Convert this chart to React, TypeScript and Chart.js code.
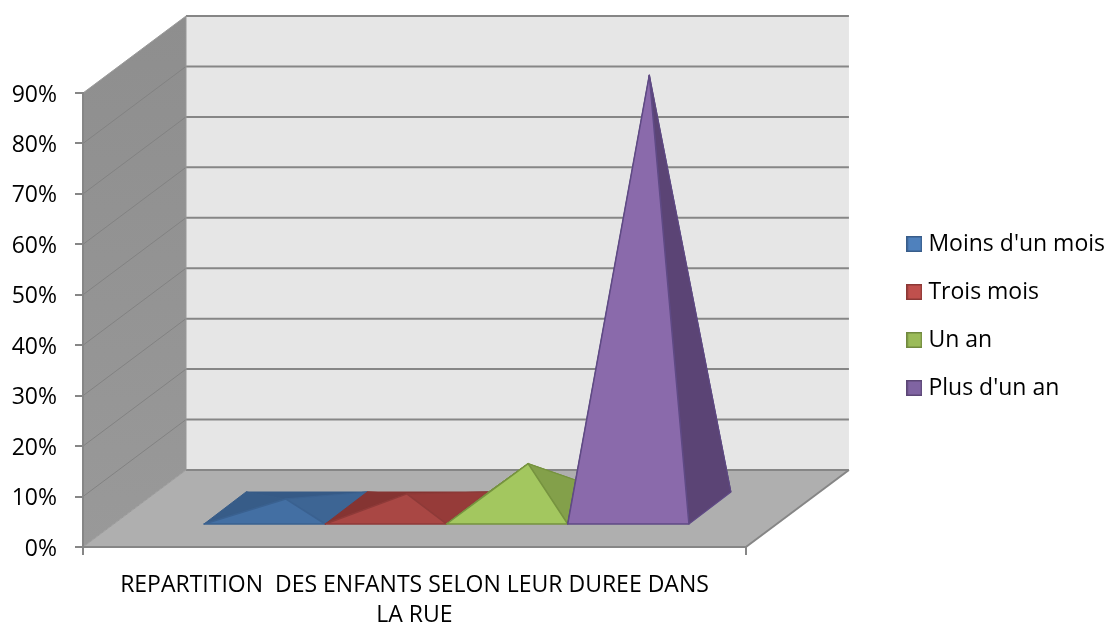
import React, { useEffect, useRef } from "react";
import { Chart, registerables, BarController } from "chart.js";

const categories = [["REPARTITION  DES ENFANTS SELON LEUR DUREE DANS", "LA RUE"]];
const seriesNames = ["Moins d'un mois", "Trois mois", "Un an", "Plus d'un an"];
const moinsDunMois = [2];
const troisMois = [3];
const unAn = [9];
const plusDunAn = [86];
const seriesValues = [moinsDunMois, troisMois, unAn, plusDunAn];

const frontColors = ["#436fa3", "#a94744", "#a3c75f", "#8a6aab"];
const rightColors = ["#3d6594", "#963b39", "#83a04a", "#5b4475"];
const leftColors = ["#375c88", "#853432", "#76913f", "#4f3b66"];
const backColors = ["#365a86", "#853432", "#76913f", "#4f3b66"];
const edgeColors = ["#3a6190", "#8e3a38", "#76933f", "#5f4a85"];
const swatchColors = ["#4f81bd", "#c0504d", "#9bbb59", "#8064a2"];
const swatchBorders = ["#385d8a", "#8c3836", "#71893f", "#5c4776"];

const FONT = { family: "Open Sans", size: 23 };
const AXIS = "#868686";
const WALL_DX = 103;
const WALL_DY = 77;
const BASE_FRONT = { dx: 32, dy: 22 };
const BASE_DEPTH = { dx: 42, dy: 32 };

class PyramidController extends BarController {
  static id = "pyramid";
  static defaults = { ...(BarController as any).defaults };
  static overrides = (BarController as any).overrides;
  draw() {}
}

Chart.register(...registerables, PyramidController as any);

type P = [number, number];
function poly(ctx: CanvasRenderingContext2D, pts: P[], fill: string | CanvasGradient, stroke?: string, lw = 1) {
  ctx.beginPath();
  pts.forEach((p, i) => (i ? ctx.lineTo(p[0], p[1]) : ctx.moveTo(p[0], p[1])));
  ctx.closePath();
  ctx.fillStyle = fill;
  ctx.fill();
  if (stroke) {
    ctx.strokeStyle = stroke;
    ctx.lineWidth = lw;
    ctx.lineJoin = "round";
    ctx.stroke();
  }
}

function line(ctx: CanvasRenderingContext2D, a: P, b: P, color: string, lw: number) {
  ctx.beginPath();
  ctx.moveTo(a[0], a[1]);
  ctx.lineTo(b[0], b[1]);
  ctx.strokeStyle = color;
  ctx.lineWidth = lw;
  ctx.stroke();
}

const wallsPlugin = {
  id: "walls",
  beforeDraw(chart: any) {
    const { ctx, chartArea: a, scales } = chart;
    const y = scales.y;
    ctx.save();
    const x0 = a.left, x1 = a.right, b = a.bottom, t = a.top;
    const side = ctx.createLinearGradient(0, t - WALL_DY, 0, b);
    side.addColorStop(0, "#8e8e8e");
    side.addColorStop(1, "#999999");
    poly(ctx, [[x0 + WALL_DX, t - WALL_DY], [x1 + WALL_DX, t - WALL_DY], [x1 + WALL_DX, b - WALL_DY], [x0 + WALL_DX, b - WALL_DY]], "#e6e6e6");
    poly(ctx, [[x0, t], [x0 + WALL_DX, t - WALL_DY], [x0 + WALL_DX, b - WALL_DY], [x0, b]], side);
    poly(ctx, [[x0, b], [x0 + WALL_DX, b - WALL_DY], [x1 + WALL_DX, b - WALL_DY], [x1, b]], "#afafaf");
    y.ticks.forEach((tick: any) => {
      const py = y.getPixelForValue(tick.value);
      line(ctx, [x0, py], [x0 + WALL_DX, py - WALL_DY], tick.value === 0 || tick.value === 90 ? "#9a9a9a" : "#828282", 1);
      line(ctx, [x0 + WALL_DX, py - WALL_DY], [x1 + WALL_DX, py - WALL_DY], AXIS, 2);
    });
    line(ctx, [x0 + WALL_DX, t - WALL_DY], [x0 + WALL_DX, b - WALL_DY], "#989898", 1);
    line(ctx, [x1, b], [x1 + WALL_DX, b - WALL_DY], AXIS, 2);
    ctx.restore();
  },
};

const pyramidsPlugin = {
  id: "pyramids",
  afterDatasetsDraw(chart: any) {
    const { ctx } = chart;
    ctx.save();
    seriesValues.forEach((_, i) => {
      const el = chart.getDatasetMeta(i).data[0];
      const { x, y, base, width } = el.getProps(["x", "y", "base", "width"], true);
      const fl: P = [x - width / 2 + BASE_FRONT.dx, base - BASE_FRONT.dy];
      const fr: P = [x + width / 2 + BASE_FRONT.dx, base - BASE_FRONT.dy];
      const bl: P = [fl[0] + BASE_DEPTH.dx, fl[1] - BASE_DEPTH.dy];
      const br: P = [fr[0] + BASE_DEPTH.dx, fr[1] - BASE_DEPTH.dy];
      const apex: P = [x + BASE_FRONT.dx + BASE_DEPTH.dx / 2, y - BASE_FRONT.dy - BASE_DEPTH.dy / 2];
      const edge = edgeColors[i];
      poly(ctx, [bl, br, apex], backColors[i], backColors[i], 1);
      poly(ctx, [fl, bl, apex], leftColors[i], leftColors[i], 1);
      poly(ctx, [fr, br, apex], rightColors[i], edge, 1.2);
      poly(ctx, [fl, fr, apex], frontColors[i], edge, 1.5);
    });
    ctx.restore();
  },
};

function swatch(fill: string, border: string) {
  const c = document.createElement("canvas");
  c.width = 16;
  c.height = 16;
  const g = c.getContext("2d")!;
  g.fillStyle = fill;
  g.fillRect(0, 0, 16, 16);
  g.strokeStyle = border;
  g.lineWidth = 1.5;
  g.strokeRect(0.75, 0.75, 14.5, 14.5);
  return c;
}

export default function App() {
  const ref = useRef<HTMLCanvasElement>(null);
  useEffect(() => {
    document.body.style.margin = "0";
    const swatches = swatchColors.map((c, i) => swatch(c, swatchBorders[i]));
    const chart = new Chart(ref.current!, {
      type: "pyramid" as any,
      data: {
        labels: categories as any,
        datasets: seriesNames.map((label, i) => ({
          label,
          data: seriesValues[i],
          backgroundColor: swatchColors[i],
          borderColor: swatchBorders[i],
          categoryPercentage: 0.7315,
          barPercentage: 1,
        })),
      },
      options: {
        animation: false,
        responsive: false,
        events: [],
        layout: { padding: { top: 8, right: -6, left: 0, bottom: 0 } },
        plugins: {
          tooltip: { enabled: false },
          legend: {
            position: "right",
            maxWidth: 260,
            labels: {
              font: FONT,
              color: "#000",
              padding: 25,
              boxWidth: 20,
              boxHeight: 20,
              usePointStyle: true,
              pointStyleWidth: 5,
              generateLabels: (c: any) =>
                c.data.datasets.map((d: any, i: number) => ({
                  text: d.label,
                  datasetIndex: i,
                  pointStyle: swatches[i],
                  fontColor: "#000",
                })),
            },
          },
        },
        scales: {
          x: {
            type: "category",
            offset: true,
            grid: { offset: true, drawOnChartArea: false, color: AXIS, lineWidth: 2, tickLength: 8 },
            border: { color: AXIS, width: 2 },
            ticks: { font: { ...FONT, lineHeight: 1.3 }, color: "#000", padding: 16, maxRotation: 0, autoSkip: false },
            afterFit: (s: any) => { s.height = 77; },
          },
          x2: {
            type: "linear",
            axis: "x",
            position: "top",
            grid: { display: false },
            border: { display: false },
            ticks: { display: false },
            afterFit: (s: any) => { s.height = 85; },
          },
          y: {
            type: "linear",
            min: 0,
            max: 90,
            grid: { drawOnChartArea: false, color: AXIS, lineWidth: 2, tickLength: 8 },
            border: { color: AXIS, width: 2 },
            ticks: { stepSize: 10, font: FONT, color: "#000", padding: 18, labelOffset: 2, callback: (v: any) => `${v}%` },
            afterFit: (s: any) => { s.width = 83; },
          },
          y2: {
            type: "linear",
            axis: "y",
            position: "right",
            grid: { display: false },
            border: { display: false },
            ticks: { display: false },
            afterFit: (s: any) => { s.width = 141; },
          },
        },
      } as any,
      plugins: [wallsPlugin, pyramidsPlugin],
    });
    return () => chart.destroy();
  }, []);
  return <canvas ref={ref} width={1109} height={624} style={{ display: "block" }} />;
}
